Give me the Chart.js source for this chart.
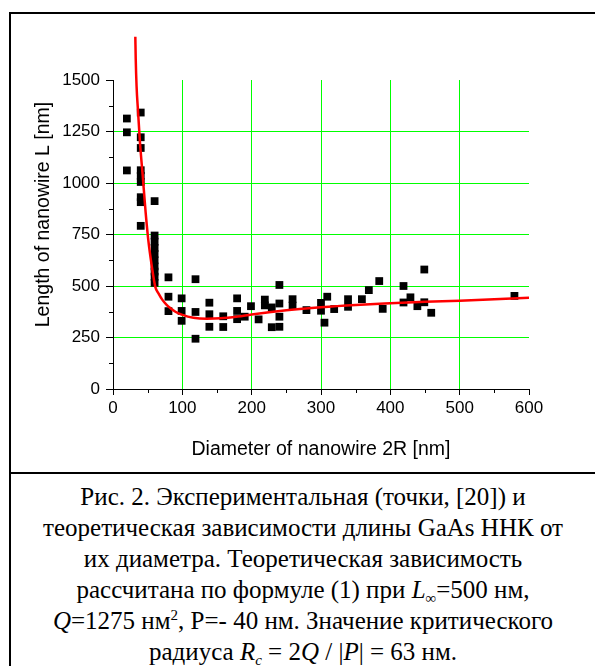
<!DOCTYPE html>
<html><head><meta charset="utf-8">
<script src="https://cdn.jsdelivr.net/npm/chart.js@4"></script>
<style>
html,body{margin:0;padding:0;background:#fff;width:595px;height:666px;overflow:hidden;}
#frame{position:absolute;left:9px;top:12px;width:640px;height:700px;border-left:2px solid #000;border-top:2px solid #000;}
#sep{position:absolute;left:9px;top:472px;width:640px;height:2px;background:#000;}
#wrap{position:absolute;left:0;top:0;width:595px;height:470px;}
#cap{position:absolute;left:11px;top:481px;width:584px;text-align:center;font-family:"Liberation Serif","Times New Roman",serif;font-size:25px;line-height:31px;color:#000;white-space:nowrap;}
#cap sub{font-size:15px;vertical-align:-5px;line-height:0;}
#cap sup{font-size:15px;vertical-align:9px;line-height:0;}
</style></head><body>
<div id="frame"></div><div id="sep"></div>
<div id="wrap"><canvas id="c"></canvas></div>
<div id="cap">Рис. 2. Экспериментальная (точки, [20]) и<br>теоретическая зависимости длины GaAs ННК от<br>их диаметра. Теоретическая зависимость<br>рассчитана по формуле (1) при <i>L</i><sub>∞</sub>=500 нм,<br><i>Q</i>=1275 нм<sup>2</sup>, P=- 40 нм. Значение критического<br>радиуса <i>R</i><sub><i>c</i></sub> = 2<i>Q</i> / |<i>P</i>| = 63 нм.</div>
<script>
// Experimental points (diameter 2R [nm], length L [nm])
const expDiameter = [20,20,20, 40,40,40,40,40,40,40,40,40,
  60,60,60,60,60,60,60,60,60,60,
  80,80,80, 99,99,99, 119,119,119, 139,139,139, 159,159, 179,179,179,
  190, 199, 210, 219,219, 229,229, 240,240,240,240, 259,259, 279, 300,300, 305, 309, 319,
  339,339, 359, 369, 384, 389, 419,419, 429, 439, 449,449, 459, 579];
const expLength = [1313,1246,1061, 1342,1222,1170,1062,1035,1005,931,907,792,
  912,745,715,685,655,625,595,570,545,515,
  542,448,378, 440,379,331, 533,374,244, 419,363,302, 353,301, 440,379,339,
  351, 402, 338, 434,406, 396,300, 505,415,351,302, 436,405, 383, 418,380, 322, 448, 388,
  436,399, 436, 480, 524, 389, 500,420, 445, 402, 580,421, 370, 452];
// Theoretical curve
const fitDiameter = [32.2,32.8,34,36,39,43,47,51,56,61,66,71,77,83,90,100,116,135,155,180,200,250,300,350,400,450,500,550,600];
const fitLength = [1710,1600,1470,1353,1192,1030,860,720,595,496,462,434,410,392,375,360,346,341,343,352,362,382,397,408,416,423,429,436,443];
// Axis ticks and titles
const xMinorTicks = [50,150,250,350,450,550];
const yMinorTicks = [125,375,625,875,1125,1375];
const xTitle = 'Diameter of nanowire 2R [nm]';
const yTitle = 'Length of nanowire L [nm]';

const tickFont = {family: '"Liberation Sans", Arial, sans-serif', size: 17};
const titleFont = {family: '"Liberation Sans", Arial, sans-serif', size: 19.5};

const axisExtras = {
  id: 'axisExtras',
  afterDraw(chart) {
    const {ctx, scales: {x, y}} = chart;
    ctx.save(); ctx.strokeStyle = '#000'; ctx.lineWidth = 1; ctx.beginPath();
    xMinorTicks.forEach(v => { const px = Math.round(x.getPixelForValue(v)) + 0.5; ctx.moveTo(px, y.bottom); ctx.lineTo(px, y.bottom + 4); });
    yMinorTicks.forEach(v => { const py = Math.round(y.getPixelForValue(v)) + 0.5; ctx.moveTo(x.left - 4, py); ctx.lineTo(x.left, py); });
    ctx.stroke();
    // y-axis title, placed slightly above the centre of the axis as in the original
    ctx.translate(44, (y.top + y.bottom) / 2 - 20);
    ctx.rotate(-Math.PI / 2);
    ctx.fillStyle = '#000';
    ctx.font = `${titleFont.size}px ${titleFont.family}`;
    ctx.textAlign = 'center'; ctx.textBaseline = 'middle';
    ctx.fillText(yTitle, 0, 0);
    ctx.restore();
  }
};

new Chart(document.getElementById('c'), {
  type: 'scatter',
  data: {
    datasets: [
      {
        type: 'line',
        data: fitDiameter.map((d, i) => ({x: d, y: fitLength[i]})),
        borderColor: '#ff0000', borderWidth: 2.5, pointRadius: 0,
        cubicInterpolationMode: 'monotone', fill: false,
        clip: {left: 0, top: false, right: 0, bottom: 0}
      },
      {
        data: expDiameter.map((d, i) => ({x: d, y: expLength[i]})),
        pointStyle: 'rect', pointRadius: 5.5, backgroundColor: '#000', borderWidth: 0, showLine: false
      }
    ]
  },
  options: {
    responsive: true, maintainAspectRatio: false, animation: false,
    layout: {padding: {left: 0, top: 80, right: 66, bottom: 5}},
    plugins: {legend: {display: false}, tooltip: {enabled: false}},
    scales: {
      x: {
        type: 'linear', min: 0, max: 600,
        ticks: {stepSize: 100, color: '#000', font: tickFont, padding: 3, maxRotation: 0, callback: v => String(v)},
        grid: {color: c => (c.tick && c.tick.value > 0 && c.tick.value < 600) ? '#00ff00' : 'rgba(0,0,0,0)', tickColor: '#000', tickLength: 6, lineWidth: 1},
        border: {color: '#000', width: 1},
        title: {display: true, text: xTitle, color: '#000', font: titleFont, padding: {top: 4, bottom: 4}},
        afterFit: s => { s.height = 76; }
      },
      y: {
        type: 'linear', min: 0, max: 1500,
        ticks: {stepSize: 250, color: '#000', font: tickFont, padding: 6, callback: v => String(v)},
        grid: {color: c => (c.tick && c.tick.value > 0 && c.tick.value < 1500) ? '#00ff00' : 'rgba(0,0,0,0)', tickColor: '#000', tickLength: 7, lineWidth: 1},
        border: {color: '#000', width: 1},
        title: {display: false, text: yTitle},
        afterFit: s => { s.width = 113; }
      }
    }
  },
  plugins: [axisExtras]
});
</script>
</body></html>
